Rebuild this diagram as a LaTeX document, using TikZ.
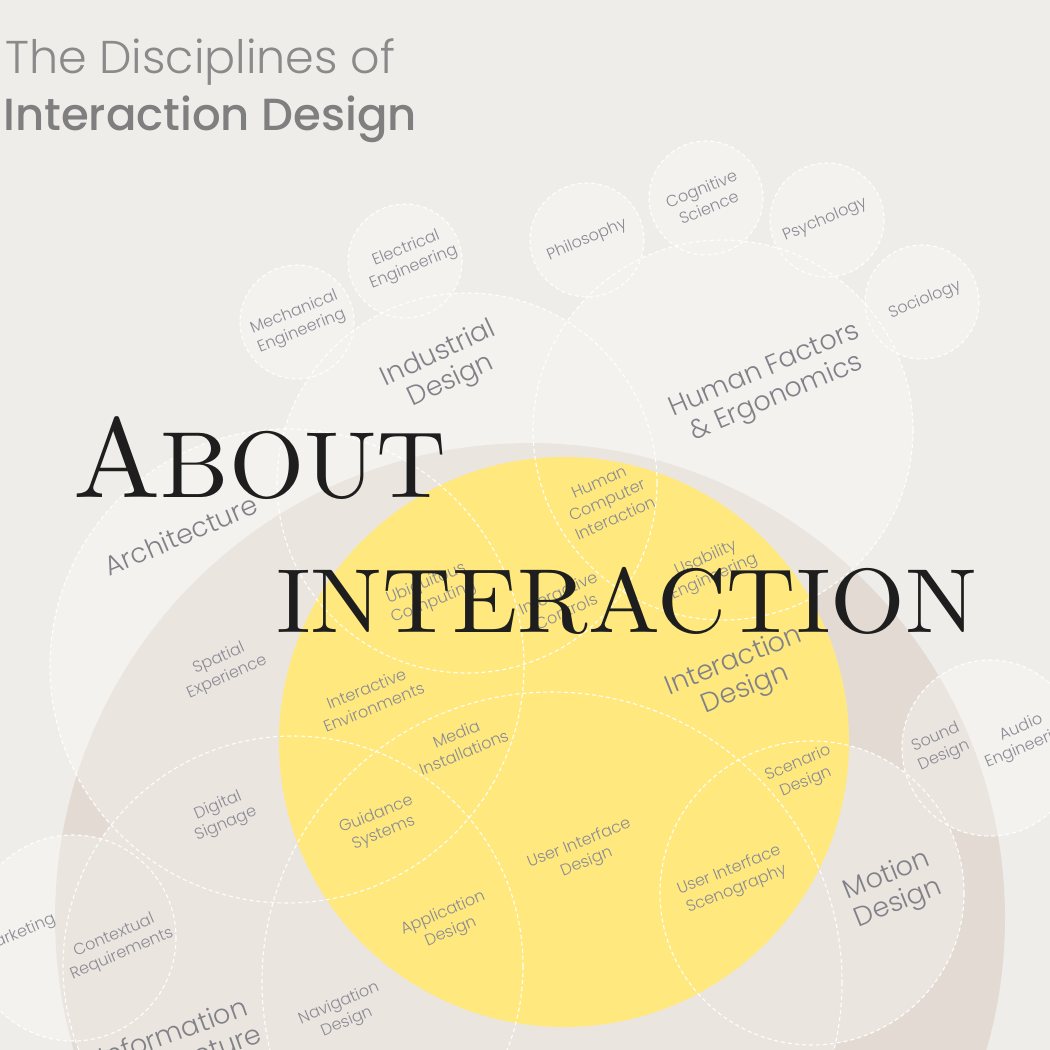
\documentclass[tikz,border=0pt]{standalone}
\usepackage{fontspec}
\IfFontExistsTF{Poppins Light}{\newfontfamily\lblfont{Poppins Light}}{\newfontfamily\lblfont{Poppins}}
\IfFontExistsTF{Poppins Medium}{\newfontfamily\ttlbold{Poppins Medium}}{\newfontfamily\ttlbold{Poppins}}
\newfontfamily\bigserif{lmroman10-regular.otf}
\definecolor{bgc}{HTML}{EFEDE9}
\definecolor{beige}{HTML}{E3DBD3}
\definecolor{yel}{HTML}{FFE97F}
\definecolor{lblc}{HTML}{8A8B94}
\definecolor{lblbig}{HTML}{818289}
\definecolor{ttlc}{HTML}{8A8A8A}
\definecolor{ttlb}{HTML}{7F7F7F}
\definecolor{ink}{HTML}{1E1E1E}
\begin{document}
\begin{tikzpicture}[x=1pt,y=-1pt,
  lbl/.style={font=\lblfont\fontsize{16}{20}\selectfont, text=lblc, align=center, inner sep=0pt, rotate=23},
  biglbl/.style={font=\lblfont\fontsize{27}{30}\selectfont, text=lblbig, align=center, inner sep=0pt, rotate=23},
  venn/.style={draw=white, dash pattern=on 4pt off 3pt, line width=1.1pt, draw opacity=0.95}]
\useasboundingbox (0,0) rectangle (1050,1050);
\fill[bgc] (0,0) rectangle (1050,1050);
\clip (0,0) rectangle (1050,1050);
% circle centres
\coordinate (mech) at (297,322);
\coordinate (elec) at (405,261);
\coordinate (phil) at (587,240);
\coordinate (cogn) at (706,198);
\coordinate (psyc) at (827,220);
\coordinate (soci) at (922,302);
\coordinate (indu) at (467,483);
\coordinate (hufa) at (723,430);
\coordinate (arch) at (287,666);
\coordinate (info) at (293,966);
\coordinate (mark) at (73,938);
\coordinate (uide) at (552,982);
\coordinate (moti) at (812,893);
\coordinate (soun) at (990,748);
\coordinate (ixd) at (564,742);
\coordinate (outer) at (530,918);
% big beige circle
\fill[beige] (outer) circle[radius=475];
% translucent union of discipline circles
\fill[white, fill opacity=0.3]
  \foreach \c/\r in {mech/57,elec/57,phil/57,cogn/57,psyc/57,soci/57,indu/190,hufa/190,arch/237,info/230,mark/103,uide/290,moti/152,soun/88}
  { (\c) circle[radius=\r] };
% interaction design circle
\fill[yel] (ixd) circle[radius=285];
% dashed outlines
\foreach \c/\r in {mech/57,elec/57,phil/57,cogn/57,psyc/57,soci/57,indu/190,hufa/190,arch/237,info/230,mark/103,uide/290,moti/152,soun/88}
  { \draw[venn] (\c) circle[radius=\r]; }
% small labels
\node[lbl, rotate=-1] (l-mech) at (298,322) {Mechanical\\Engineering};
\node[lbl, rotate=-1] (l-elec) at (410,258) {Electrical\\Engineering};
\node[lbl] (l-phil) at (587,240) {Philosophy};
\node[lbl, rotate=-1] (l-cogn) at (705,198) {Cognitive\\Science};
\node[lbl] (l-psyc) at (825,220) {Psychology};
\node[lbl] (l-soci) at (925,300) {Sociology};
\node[lbl, rotate=1] (l-hci) at (607,500) {Human\\Computer\\Interaction};
\node[lbl, rotate=1] (l-usab) at (710,568) {Usability\\Engineering};
\node[lbl, rotate=1] (l-ictl) at (562,602) {Interactive\\Controls};
\node[lbl, rotate=-1] (l-ubiq) at (430,593) {Ubiquitous\\Computing};
\node[lbl, rotate=1] (l-spat) at (223,668) {Spatial\\Experience};
\node[lbl, rotate=-1] (l-ienv) at (370,698) {Interactive\\Environments};
\node[lbl, rotate=-1] (l-medi) at (460,743) {Media\\Installations};
\node[lbl, rotate=-1] (l-guid) at (380,824) {Guidance\\Systems};
\node[lbl] (l-digi) at (222,815) {Digital\\Signage};
\node[lbl] (l-ctxr) at (118,945) {Contextual\\Requirements};
\node[lbl, anchor=east] (l-mark) at (55,919) {Marketing};
\node[lbl] (l-navi) at (343,1013) {Navigation\\Design};
\node[lbl] (l-appl) at (447,923) {Application\\Design};
\node[lbl, rotate=-1] (l-uid) at (583,853) {User Interface\\Design};
\node[lbl, rotate=-1] (l-uis) at (733,880) {User Interface\\Scenography};
\node[lbl] (l-scen) at (802,773) {Scenario\\Design};
\node[lbl, rotate=1] (l-soun) at (940,747) {Sound\\Design};
\node[lbl] (l-audi) at (1025,737) {Audio\\Engineering};
% large labels
\node[biglbl, rotate=2] (l-indu) at (445,368) {Industrial\\Design};
\node[biglbl] (l-hufa) at (771,385) {Human Factors\\\& Ergonomics};
\node[biglbl] (l-arch) at (181,535) {Architecture};
\node[biglbl, rotate=-3] (l-info) at (178,1046) {Information\\Architecture};
\node[biglbl, rotate=-1] (l-ixd) at (740,676) {Interaction\\Design};
\node[biglbl, rotate=-1] (l-moti) at (893,890) {Motion\\Design};
% big overlay text
\node[anchor=base west, inner sep=0pt, text=ink, xscale=1.03] (about) at (73,497)
  {\bigserif\fontsize{113}{113}\selectfont A\fontsize{94}{94}\selectfont BOUT};
\node[anchor=base west, inner sep=0pt, text=ink, xscale=1.055] (interaction) at (276,632)
  {\bigserif\fontsize{91}{91}\selectfont INTERACTION};
% title
\node[anchor=base west, inner sep=0pt, text=ttlc] (title1) at (5,73)
  {\lblfont\fontsize{46}{46}\selectfont The Disciplines of};
\node[anchor=base west, inner sep=0pt, text=ttlb] (title2) at (3,130)
  {\ttlbold\fontsize{45}{45}\selectfont Interaction Design};
\end{tikzpicture}
\end{document}
